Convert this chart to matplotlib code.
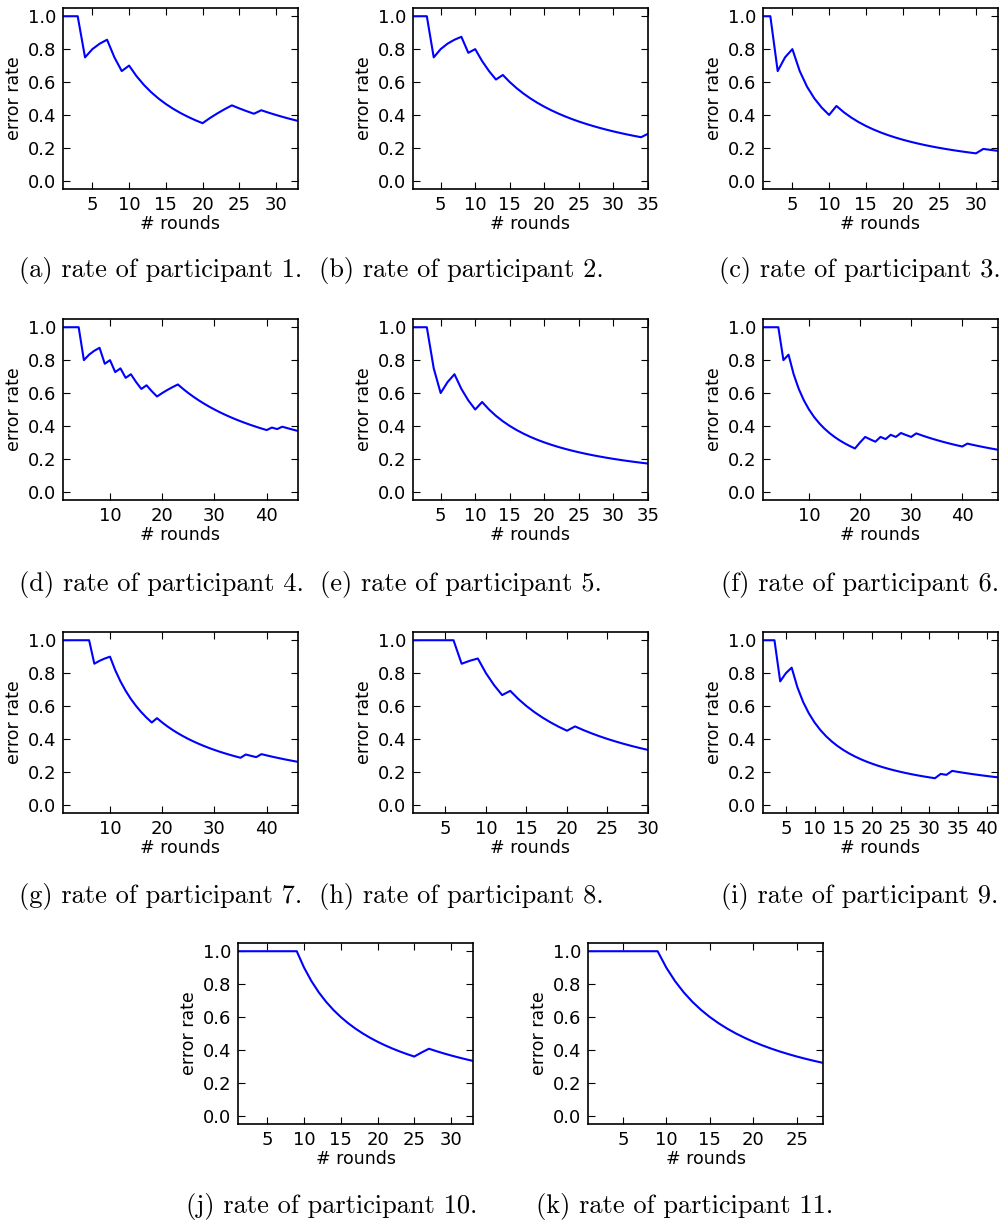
import numpy as np
import matplotlib
matplotlib.use("Agg")
import matplotlib.pyplot as plt

plt.rcParams["font.family"] = ["DejaVu Sans"]

# cumulative number of wrong answers after each round
# (error rate = wrong / rounds played)
errors_p1 = [1, 2, 3, 3, 4, 5, 6, 6, 6, 7] + [7] * 10 + [8, 9, 10, 11, 11, 11, 11] + [12] * 6
errors_p2 = [1, 2, 3, 3, 4, 5, 6, 7, 7, 8, 8, 8, 8] + [9] * 21 + [10]
errors_p3 = [1, 2, 2, 3, 4] + [4] * 5 + [5] * 20 + [6] * 3
errors_p4 = [1, 2, 3, 4, 4, 5, 6, 7, 7, 8, 8, 9, 9, 10, 10, 10, 11, 11, 11,
             12, 13, 14, 15] + [15] * 17 + [16, 16] + [17] * 4
errors_p5 = [1, 2, 3, 3, 3, 4, 5, 5, 5, 5] + [6] * 25
errors_p6 = [1, 2, 3, 4, 4, 5] + [5] * 13 + [6, 7, 7, 7, 8, 8, 9, 9, 10, 10, 10] + [11] * 10 + [12] * 7
errors_p7 = [1, 2, 3, 4, 5, 6, 6, 7, 8, 9] + [9] * 8 + [10] * 17 + [11] * 3 + [12] * 8
errors_p8 = [1, 2, 3, 4, 5, 6, 6, 7, 8, 8, 8, 8] + [9] * 8 + [10] * 10
errors_p9 = [1, 2, 3, 3, 4, 5] + [5] * 25 + [6, 6] + [7] * 9
errors_p10 = [1, 2, 3, 4, 5, 6, 7, 8, 9] + [9] * 16 + [10] + [11] * 7
errors_p11 = [1, 2, 3, 4, 5, 6, 7, 8, 9] + [9] * 19

all_errors = [errors_p1, errors_p2, errors_p3, errors_p4, errors_p5, errors_p6,
              errors_p7, errors_p8, errors_p9, errors_p10, errors_p11]
letters = ["a", "b", "c", "d", "e", "f", "g", "h", "i", "j", "k"]
xticks = [[5, 10, 15, 20, 25, 30], [5, 10, 15, 20, 25, 30, 35], [5, 10, 15, 20, 25, 30],
          [10, 20, 30, 40], [5, 10, 15, 20, 25, 30, 35], [10, 20, 30, 40],
          [10, 20, 30, 40], [5, 10, 15, 20, 25, 30], [5, 10, 15, 20, 25, 30, 35, 40],
          [5, 10, 15, 20, 25, 30], [5, 10, 15, 20, 25]]
yticks = [0.0, 0.2, 0.4, 0.6, 0.8, 1.0]

W, H = 1006, 1225
fig = plt.figure(figsize=(W / 100, H / 100), dpi=100)

# axes boxes in pixels: left, top, width, height
col_left = [63, 413, 763]
row_top = [8, 319, 632]
ax_w, ax_h = 235, 181
boxes = [(col_left[c], row_top[r]) for r in range(3) for c in range(3)]
boxes += [(238, 943), (588, 943)]
caption_x = [161, 461, 860] * 3 + [332, 685]
caption_y = [270, 585, 896, 1207]

for i, errs in enumerate(all_errors):
    left, top = boxes[i]
    ax = fig.add_axes([left / W, 1 - (top + ax_h) / H, ax_w / W, ax_h / H])
    rounds = np.arange(1, len(errs) + 1)
    rate = np.array(errs) / rounds
    ax.plot(rounds, rate, color="#0000ff", linewidth=1.5)
    ax.set_xlim(1, len(errs))
    ax.set_ylim(-0.05, 1.05)
    ax.set_xticks(xticks[i])
    ax.set_yticks(yticks)
    ax.set_yticklabels([f"{v:.1f}" for v in yticks])
    ax.tick_params(direction="in", top=True, right=True, length=5, width=0.8,
                   labelsize=13, pad=5)
    for s in ax.spines.values():
        s.set_linewidth(1.2)
    ax.set_xlabel("# rounds", fontsize=12.5, labelpad=1)
    ax.set_ylabel("error rate", fontsize=12.5, labelpad=3)

    row = 3 if i >= 9 else i // 3
    fig.text(caption_x[i] / W, 1 - caption_y[row] / H,
             f"({letters[i]}) rate of participant {i + 1}.",
             ha="center", va="center", fontsize=19, family="cmr10")

fig.savefig("out.png", dpi=100, facecolor="white")
